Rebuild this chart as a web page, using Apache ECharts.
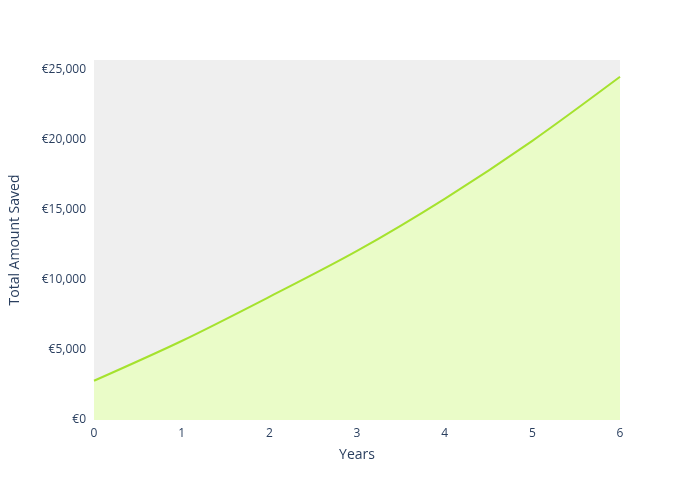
<!DOCTYPE html>
<html>
<head>
<meta charset="utf-8">
<script src="https://cdn.jsdelivr.net/npm/echarts@6/dist/echarts.min.js"></script>
<style>html,body{margin:0;padding:0;background:#fff}#chart{width:700px;height:500px}</style>
</head>
<body>
<div id="chart"></div>
<script>
var years = [0, 1, 2, 3, 4, 5, 6];
var totals = [2800, 5640, 8790, 12070, 15790, 19930, 24500];

var chart = echarts.init(document.getElementById('chart'));
var option = {
  animation: false,
  textStyle: { fontFamily: 'Open Sans, sans-serif' },
  grid: { left: 89, right: 80, top: 60, bottom: 80, show: true, backgroundColor: '#efefef', borderWidth: 0 },
  xAxis: {
    type: 'value', min: 0, max: 6, interval: 1,
    name: 'Years', nameLocation: 'middle', nameGap: 28,
    nameTextStyle: { color: '#2a3f5f', fontSize: 14 },
    axisLine: { show: false }, axisTick: { show: false },
    splitLine: { show: false },
    axisLabel: { color: '#2a3f5f', fontSize: 12 }
  },
  yAxis: {
    type: 'value', min: 0, max: 25700, interval: 5000,
    name: 'Total Amount Saved', nameLocation: 'middle', nameGap: 72,
    nameTextStyle: { color: '#2a3f5f', fontSize: 14 },
    axisLine: { show: false }, axisTick: { show: false },
    splitLine: { show: false },
    axisLabel: { color: '#2a3f5f', fontSize: 12, showMaxLabel: false,
      formatter: function (v) { return '€' + v.toLocaleString('en-US'); } }
  },
  series: [{
    type: 'line',
    data: years.map(function (y, i) { return [y, totals[i]]; }),
    symbol: 'none',
    smooth: 0.3,
    lineStyle: { color: '#a5e22e', width: 2 },
    areaStyle: { color: '#eafcc8', opacity: 1 }
  }]
};
chart.setOption(option);
</script>
</body>
</html>
